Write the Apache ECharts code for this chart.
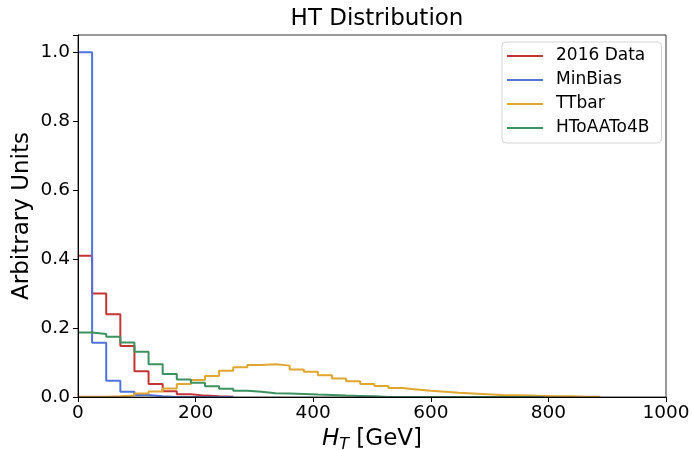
<!DOCTYPE html>
<html>
<head>
<meta charset="utf-8">
<script src="https://cdn.jsdelivr.net/npm/echarts@6/dist/echarts.min.js"></script>
<style>
html,body{margin:0;padding:0;background:#fff;}
#chart{width:692px;height:450px;}
</style>
</head>
<body>
<div id="chart"></div>
<script>
// Histogram bin width (GeV); bins start at 0
const binWidth = 24;
const seriesNames = ['2016 Data', 'MinBias', 'TTbar', 'HToAATo4B'];
const data2016 = [0.41, 0.30, 0.24, 0.148, 0.075, 0.038, 0.017, 0.008, 0.004, 0.002, 0.001];
const minBias = [1.0, 0.157, 0.047, 0.015, 0.006, 0.002, 0, 0, 0, 0, 0];
const ttbar = [0.0005, 0.001, 0.002, 0.004, 0.010, 0.016, 0.025, 0.038, 0.049, 0.061,
               0.076, 0.086, 0.093, 0.095, 0.091, 0.080, 0.073, 0.063, 0.054, 0.046,
               0.038, 0.032, 0.026, 0.022, 0.018, 0.015, 0.012, 0.010, 0.008, 0.006,
               0.005, 0.004, 0.003, 0.002, 0.002, 0.001, 0.001];
const hToAATo4B = [0.187, 0.183, 0.175, 0.158, 0.131, 0.095, 0.067, 0.051, 0.041, 0.031,
                   0.024, 0.018, 0.015, 0.011, 0.010, 0.009, 0.007, 0.006, 0.004, 0.003,
                   0.002, 0, 0, 0, 0, 0, 0, 0, 0, 0, 0, 0, 0];
const xTicks = [0, 200, 400, 600, 800, 1000];
const yTicks = [0.0, 0.2, 0.4, 0.6, 0.8, 1.0];
const colors = ['#c43535', '#5074dc', '#e0a630', '#3d9262'];

function stepPoints(vals) {
  const pts = [];
  for (let i = 0; i < vals.length; i++) {
    pts.push([i * binWidth, vals[i]]);
    pts.push([(i + 1) * binWidth, vals[i]]);
  }
  pts.push([vals.length * binWidth, 0]);
  return pts;
}

const allVals = [data2016, minBias, ttbar, hToAATo4B];
const chart = echarts.init(document.getElementById('chart'), null, {renderer: 'canvas'});
const font = 'DejaVu Sans';
chart.setOption({
  animation: false,
  backgroundColor: '#ffffff',
  textStyle: {fontFamily: font},
  title: {
    text: 'HT Distribution',
    left: 372, top: 3, textAlign: 'center',
    textStyle: {fontFamily: font, fontSize: 23, fontWeight: 'normal', color: '#000'}
  },
  grid: {left: 78, right: 26, top: 35, bottom: 53, show: true, borderColor: '#333', borderWidth: 1,
         containLabel: false, outerBoundsMode: 'none', z: 5},
  legend: {
    orient: 'vertical', left: 502, top: 42,
    data: seriesNames,
    icon: 'rect', itemWidth: 36, itemHeight: 2, itemGap: 4,
    padding: [4, 12, 5, 5],
    backgroundColor: '#fff', borderColor: '#d5d5d5', borderWidth: 1, borderRadius: 4,
    textStyle: {fontFamily: font, fontSize: 17, color: '#000', lineHeight: 20, padding: [0, 0, 0, 8]}
  },
  xAxis: {
    type: 'value', min: 0, max: 1000, interval: 200, z: 5,
    name: '{i|H}{s|T} [GeV]', nameLocation: 'middle', nameGap: 29, nameMoveOverlap: false,
    nameTextStyle: {
      fontFamily: font, fontSize: 23, color: '#000',
      rich: {
        i: {fontFamily: font, fontSize: 23, fontStyle: 'italic', color: '#000'},
        s: {fontFamily: font, fontSize: 16, fontStyle: 'italic', color: '#000', padding: [11, 0, 0, 0]}
      }
    },
    axisLine: {show: true, onZero: false, lineStyle: {color: '#000', width: 1}},
    axisTick: {show: true, inside: false, length: 5, lineStyle: {color: '#000'}},
    axisLabel: {fontFamily: font, fontSize: 18.5, color: '#000', margin: 7,
      formatter: v => xTicks.indexOf(v) >= 0 ? String(v) : ''},
    splitLine: {show: false}
  },
  yAxis: {
    type: 'value', min: 0, max: 1.05, interval: 0.2, z: 5,
    name: 'Arbitrary Units', nameLocation: 'middle', nameGap: 44, nameRotate: 90, nameMoveOverlap: false,
    nameTextStyle: {fontFamily: font, fontSize: 23, color: '#000'},
    axisLine: {show: true, onZero: false, lineStyle: {color: '#000', width: 1}},
    axisTick: {show: true, inside: false, length: 5, lineStyle: {color: '#000'}},
    axisLabel: {fontFamily: font, fontSize: 18.5, color: '#000', margin: 8, showMaxLabel: true,
      formatter: v => {
        const m = yTicks.find(t => Math.abs(t - v) < 1e-9);
        return m === undefined ? '' : m.toFixed(1);
      }},
    splitLine: {show: false}
  },
  series: seriesNames.map((n, k) => ({
    name: n, type: 'line', data: stepPoints(allVals[k]),
    showSymbol: false, symbol: 'none', clip: true, z: 2,
    color: colors[k],
    lineStyle: {width: 2, color: colors[k]},
    emphasis: {disabled: true}
  }))
});
</script>
</body>
</html>
